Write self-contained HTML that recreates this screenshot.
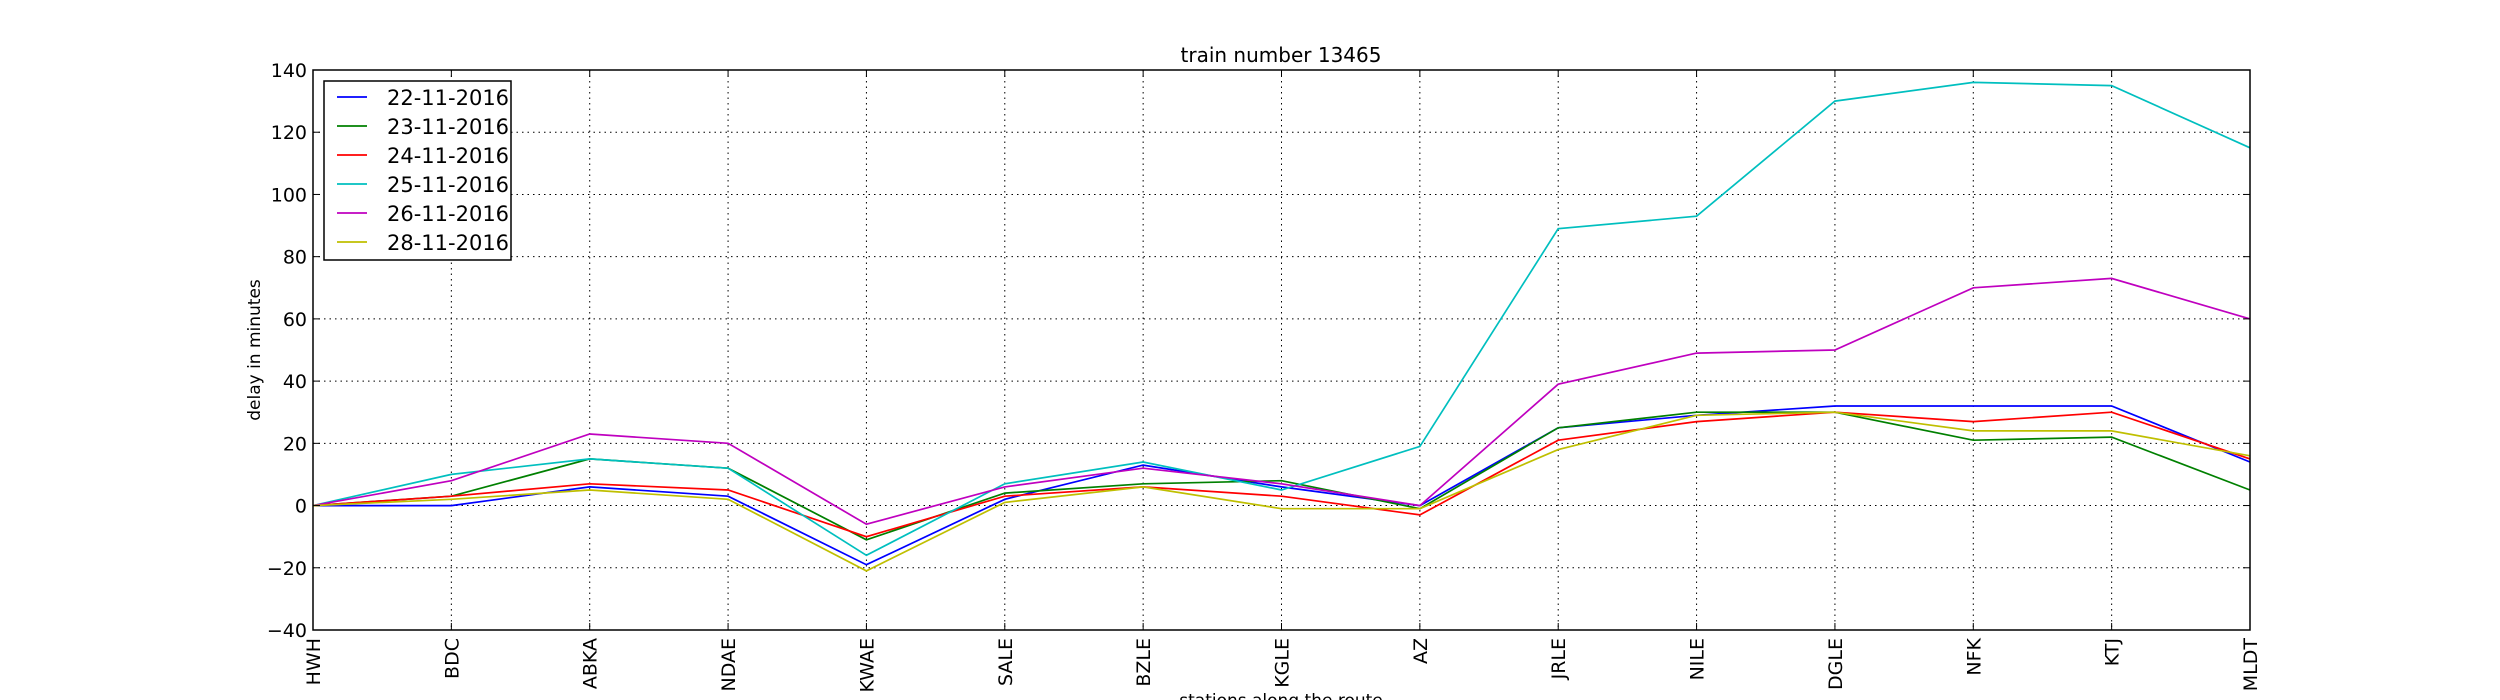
<!DOCTYPE html>
<html><head><meta charset="utf-8"><style>
html,body{margin:0;padding:0;background:#fff;}
svg{display:block;font-family:"DejaVu Sans","Liberation Sans",sans-serif;}
</style></head><body>
<svg id="chart" width="2500" height="700" xmlns="http://www.w3.org/2000/svg">
<rect width="2500" height="700" fill="#fff"/>
<g id="grid"></g>
<g id="series"></g>
<g id="axes"></g>
<text x="1281" y="62" font-size="20" text-anchor="middle">train number 13465</text>
<text transform="translate(260,350) rotate(-90)" font-size="17" text-anchor="middle">delay in minutes</text>
<text x="1281" y="706" font-size="17" text-anchor="middle">stations along the route</text>
<g id="legend"></g>
</svg>
<script>
const stations = ["HWH","BDC","ABKA","NDAE","KWAE","SALE","BZLE","KGLE","AZ","JRLE","NILE","DGLE","NFK","KTJ","MLDT"];
const dates = ["22-11-2016","23-11-2016","24-11-2016","25-11-2016","26-11-2016","28-11-2016"];
const s22 = [0,0,6,3,-19,2,13,6,0,25,29,32,32,32,14];
const s23 = [0,3,15,12,-11,4,7,8,-1,25,30,30,21,22,5];
const s24 = [0,3,7,5,-10,3,6,3,-3,21,27,30,27,30,15];
const s25 = [0,10,15,12,-16,7,14,5,19,89,93,130,136,135,115];
const s26 = [0,8,23,20,-6,6,12,7,0,39,49,50,70,73,60];
const s28 = [0,2,5,2,-21,1,6,-1,-1,18,29,30,24,24,16];
const yTicks = [-40,-20,0,20,40,60,80,100,120,140];
const seriesList = [s22,s23,s24,s25,s26,s28];
const colors = ["#0000ff","#008000","#ff0000","#00bfbf","#bf00bf","#bfbf00"];

const L=313,R=2250,T=70,B=630,ymin=-40,ymax=140;
const NS="http://www.w3.org/2000/svg";
function xs(i){return L+(R-L)*i/(stations.length-1);}
function ys(v){return B-(v-ymin)*(B-T)/(ymax-ymin);}
function mk(tag,attrs,parent){const e=document.createElementNS(NS,tag);for(const k in attrs)e.setAttribute(k,attrs[k]);parent.appendChild(e);return e;}
const grid=document.getElementById('grid'),axes=document.getElementById('axes'),ser=document.getElementById('series'),leg=document.getElementById('legend');

stations.forEach((s,i)=>{
  const x=xs(i);
  const g=mk('line',{x1:x,x2:x,y1:T,y2:B,stroke:'#000','stroke-width':1,'stroke-dasharray':'1.5,4'},grid);
  
  
  const t1=mk('line',{x1:x,x2:x,y1:B,y2:B-7,stroke:'#000','stroke-width':1},axes);
  
  
  const t2=mk('line',{x1:x,x2:x,y1:T,y2:T+7,stroke:'#000','stroke-width':1},axes);
  
  
  const lb=mk('text',{transform:`translate(${x+7},${B+8}) rotate(-90)`,'font-size':19,'text-anchor':'end'},axes);
  lb.textContent=s;
  
  
});
yTicks.forEach(v=>{
  const y=ys(v);
  const g=mk('line',{x1:L,x2:R,y1:y,y2:y,stroke:'#000','stroke-width':1,'stroke-dasharray':'1.5,4'},grid);
  
  
  const t1=mk('line',{x1:L,x2:L+7,y1:y,y2:y,stroke:'#000','stroke-width':1},axes);
  
  
  const t2=mk('line',{x1:R,x2:R-7,y1:y,y2:y,stroke:'#000','stroke-width':1},axes);
  
  
  const lb=mk('text',{x:L-6,y:y+7,'font-size':19,'text-anchor':'end'},axes);
  lb.textContent=(v<0?'\u2212'+(-v):String(v));
  
  
});
const frame=mk('rect',{x:L,y:T,width:R-L,height:B-T,fill:'none',stroke:'#000','stroke-width':1.5},axes);



seriesList.forEach((arr,k)=>{
  const pts=arr.map((v,i)=>xs(i).toFixed(1)+','+ys(v).toFixed(1)).join(' ');
  const p=mk('polyline',{points:pts,fill:'none',stroke:colors[k],'stroke-width':1.7,'stroke-linejoin':'miter'},ser);
  
  
});

const box=mk('rect',{x:324,y:81,width:187,height:179,fill:'#fff',stroke:'#000','stroke-width':1.5},leg);


dates.forEach((d,k)=>{
  const y=97+k*29;
  const ln=mk('line',{x1:337,x2:367,y1:y,y2:y,stroke:colors[k],'stroke-width':1.7},leg);
  
  
  const t=mk('text',{x:387,y:y+8,'font-size':21},leg);
  t.textContent=d;
  
  
});
</script>
</body></html>
